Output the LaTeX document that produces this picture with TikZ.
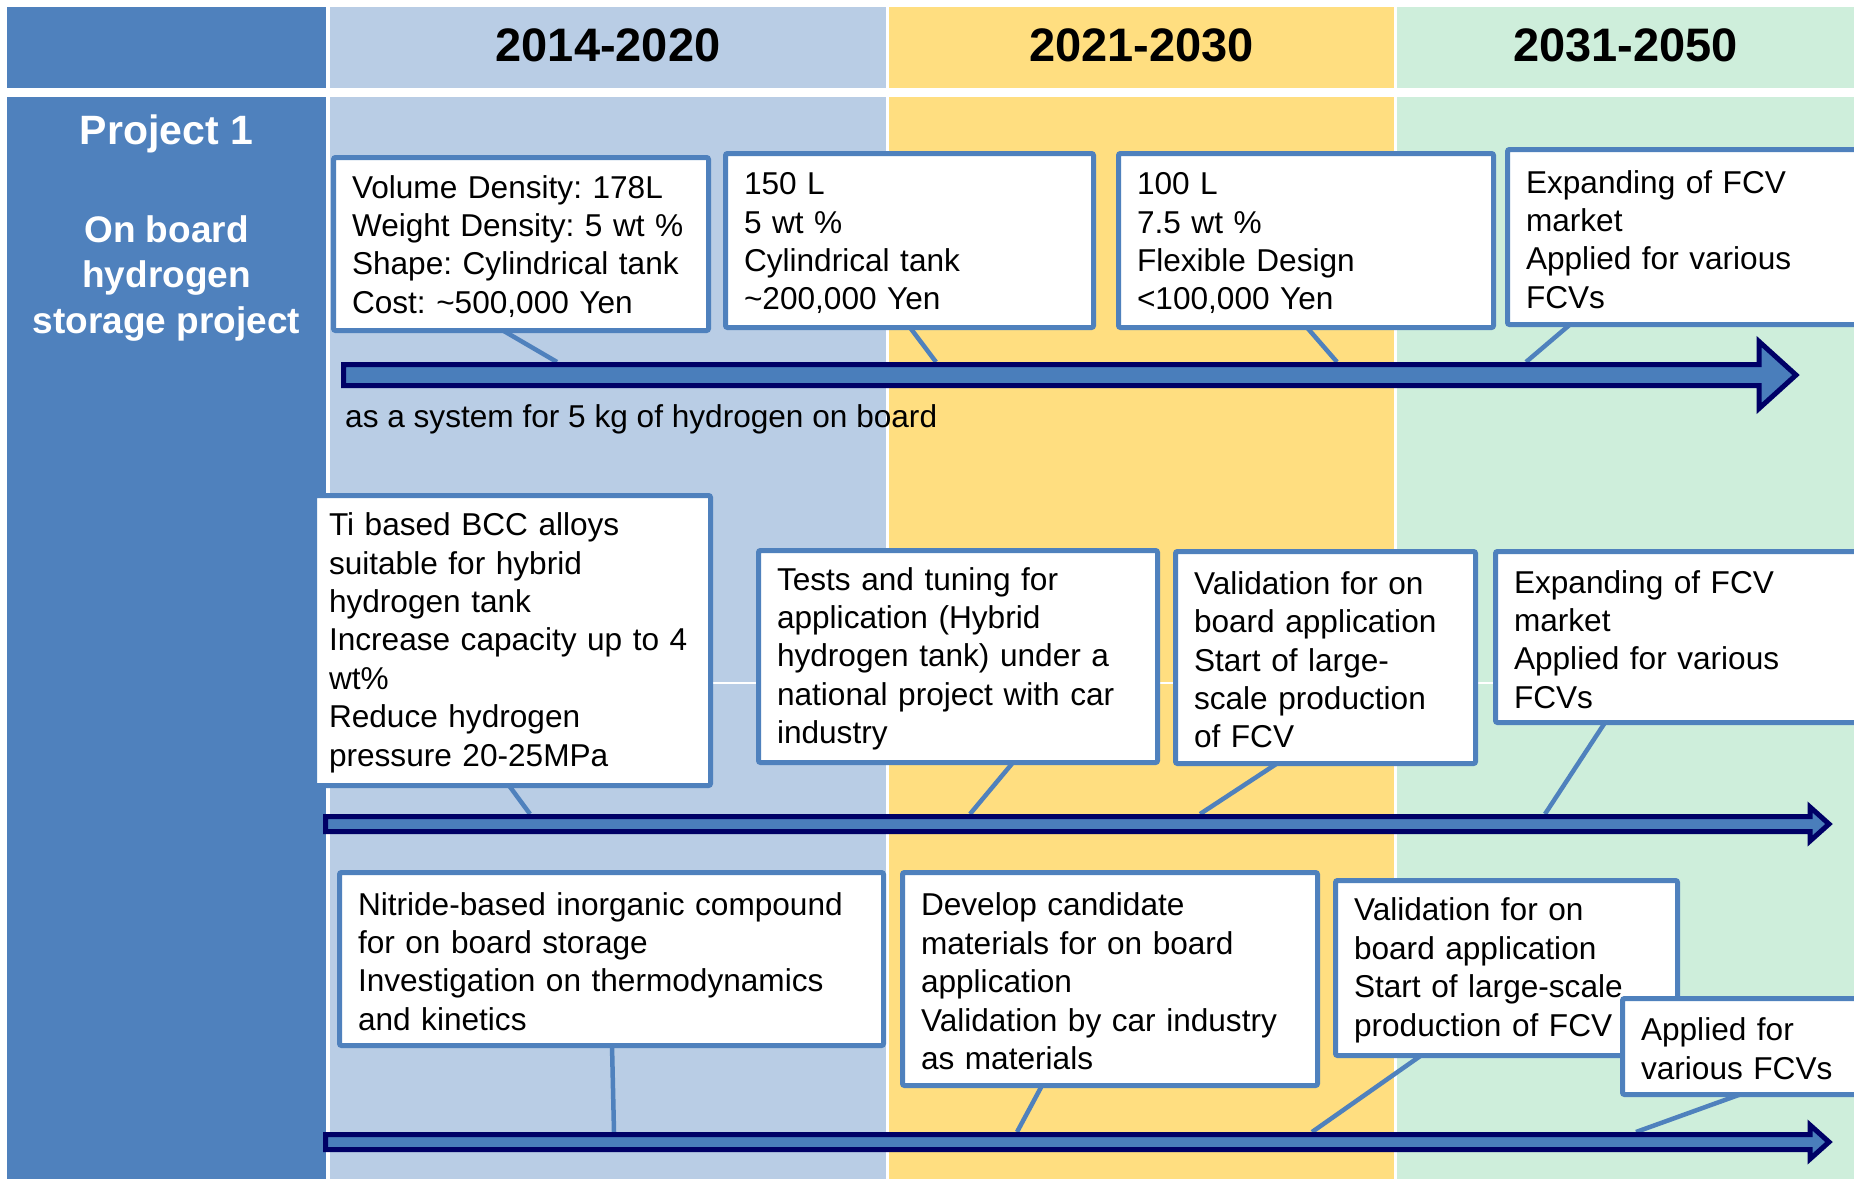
\documentclass[tikz,border=0pt]{standalone}
\usepackage{fontspec}
\setmainfont{Liberation Sans}
\usetikzlibrary{calc}
\pgfdeclarelayer{tabelle}
\pgfdeclarelayer{background}
\pgfsetlayers{tabelle,background,main}

\definecolor{kopfblau}{HTML}{4F81BD}
\definecolor{spalteblau}{HTML}{B9CDE5}
\definecolor{spaltegelb}{HTML}{FFDE80}
\definecolor{spaltegruen}{HTML}{CEEEDB}
\definecolor{kastenrand}{HTML}{4F81BD}
\definecolor{pfeilblau}{HTML}{4A7EBB}
\definecolor{pfeilrand}{HTML}{000066}

\begin{document}
\frenchspacing
\begin{tikzpicture} [ x=1pt, y=-1pt
								, kasten/.style={draw=kastenrand, fill=white, line width=5pt, rounded corners=2pt, anchor=north west, inner xsep=18.5pt, inner ysep=0pt, outer sep=0pt, align=left, font=\fontsize{31.6}{38.4}\selectfont, execute at begin node={\rule{0pt}{27.5pt}}}
								, stiel/.style={draw=kastenrand, line width=4.5pt}
								, pfeil/.style={fill=pfeilblau, draw=pfeilrand, line width=5pt, line join=miter}
								, zeitraum/.style={font=\fontsize{47}{56}\selectfont\bfseries}
								, titel/.style={text=white, align=center, font=\fontsize{37}{45.5}\selectfont\bfseries}
								]
	\useasboundingbox (0,0) rectangle (1854,1179);

	% table
	\begin{pgfonlayer}{tabelle}
	\fill [kopfblau] (7,7) rectangle (326,88);
	\fill [kopfblau] (7,97) rectangle (326,1179);
	\foreach \xa/\xb/\farbe in {330/886/spalteblau, 889/1394/spaltegelb, 1397/1854/spaltegruen}
	{
		\fill [\farbe] (\xa,7) rectangle (\xb,88);
		\fill [\farbe] (\xa,97) rectangle (\xb,682);
		\fill [\farbe] (\xa,684) rectangle (\xb,1179);
	}
	\end{pgfonlayer}

	\node (zeit1) [zeitraum] at (608,45) {2014-2020};
	\node (zeit2) [zeitraum] at (1141.5,45) {2021-2030};
	\node (zeit3) [zeitraum] at (1625.5,45) {2031-2050};

	\node (projekt) [titel, font=\fontsize{41}{48}\selectfont\bfseries] at (166.5,134) {Project 1};
	\node (thema) [titel] at (166.5,278.5) {On board\\hydrogen\\storage project};

	% time axes
	\coordinate (achse1) at (0,362);
	\coordinate (achse2) at (0,814);
	\coordinate (achse3) at (0,1132);

	\node (systemtext) [anchor=west, inner sep=0pt, font=\fontsize{31.6}{38.4}\selectfont] at (345,419.5) {as a system for 5 kg of hydrogen on board};

	% boxes
	\node (B1) [kasten, minimum width=375pt, minimum height=173pt, text width=338pt] at (333.5,157.5) {Volume Density: 178L\\Weight Density: 5 wt \%\\Shape: Cylindrical tank\\Cost: \textasciitilde500,000 Yen};
	\node (B2) [kasten, minimum width=368pt, minimum height=174pt, text width=331pt] at (725.5,153.5) {150 L\\5 wt \%\\Cylindrical tank\\\textasciitilde200,000 Yen};
	\node (B3) [kasten, minimum width=375pt, minimum height=174pt, text width=338pt] at (1118.5,153.5) {100 L\\7.5 wt \%\\Flexible Design\\<100,000 Yen};
	\node (B4) [kasten, minimum width=360pt, minimum height=175pt, text width=323pt] at (1507.5,149.5) {Expanding of FCV\\market\\Applied for various\\FCVs};

	\node (C1) [kasten, minimum width=396pt, minimum height=290pt, text width=367pt, inner xsep=14.5pt] at (314.5,495.5) {Ti based BCC alloys\\suitable for hybrid\\hydrogen tank\\Increase capacity up to 4\\wt\%\\Reduce hydrogen\\pressure 20-25MPa};
	\node (C2) [kasten, minimum width=399pt, minimum height=212pt, text width=362pt] at (758.5,550.5) {Tests and tuning for\\application (Hybrid\\hydrogen tank) under a\\national project with car\\industry};
	\node (C3) [kasten, minimum width=300pt, minimum height=212pt, text width=263pt] at (1175.5,551.5) {Validation for on\\board application\\Start of large-\\scale production\\of FCV};
	\node (C4) [kasten, minimum width=370pt, minimum height=171pt, text width=333pt] at (1495.5,551.5) {Expanding of FCV\\market\\Applied for various\\FCVs};

	\node (D1) [kasten, minimum width=544pt, minimum height=173pt, text width=507pt] at (339.5,872.5) {Nitride-based inorganic compound\\for on board storage\\Investigation on thermodynamics\\and kinetics};
	\node (D2) [kasten, minimum width=415pt, minimum height=213pt, text width=378pt] at (902.5,872.5) {Develop candidate\\materials for on board\\application\\Validation by car industry\\as materials};
	\node (D3) [kasten, minimum width=342pt, minimum height=175pt, text width=305pt] at (1335.5,880.5) {Validation for on\\board application\\Start of large-scale\\production of FCV};
	\node (D4) [kasten, minimum width=245pt, minimum height=96pt, text width=208pt] at (1622.5,998.5) {Applied for\\various FCVs};

	% connectors
	\begin{pgfonlayer}{background}
	\draw [stiel] ([xshift=169.5pt]B1.south west) -- ($(B1.south west |- achse1)+(223.5,0)$);
	\draw [stiel] ([xshift=184.5pt]B2.south west) -- ($(B2.south west |- achse1)+(210.5,0)$);
	\draw [stiel] ([xshift=188.5pt]B3.south west) -- ($(B3.south west |- achse1)+(218.5,0)$);
	\draw [stiel] ([xshift=62.5pt]B4.south west) -- ($(B4.south west |- achse1)+(18.5,0)$);
	\draw [stiel] ([xshift=194.5pt]C1.south west) -- ($(C1.south west |- achse2)+(215.5,0)$);
	\draw [stiel] ([xshift=254.5pt]C2.south west) -- ($(C2.south west |- achse2)+(211.5,0)$);
	\draw [stiel] ([xshift=101.5pt]C3.south west) -- ($(C3.south west |- achse2)+(24.5,0)$);
	\draw [stiel] ([xshift=109.5pt]C4.south west) -- ($(C4.south west |- achse2)+(49.5,0)$);
	\draw [stiel] ([xshift=272.5pt]D1.south west) -- ($(D1.south west |- achse3)+(274.5,0)$);
	\draw [stiel] ([xshift=139.5pt]D2.south west) -- ($(D2.south west |- achse3)+(114.5,0)$);
	\draw [stiel] ([xshift=85.5pt]D3.south west) -- ($(D3.south west |- achse3)+(-23.5,0)$);
	\draw [stiel] ([xshift=117.5pt]D4.south west) -- ($(D4.south west |- achse3)+(13.5,0)$);
	\end{pgfonlayer}

	% arrows
	\draw [pfeil] (343.5,364.5) -- (1759,364.5) -- (1759,341.5) -- (1796,375) -- (1759,408.5) -- (1759,385.5) -- (343.5,385.5) -- cycle;
	\draw [pfeil] (325.5,816.5) -- (1810,816.5) -- (1810,807) -- (1829,824) -- (1810,841) -- (1810,831.5) -- (325.5,831.5) -- cycle;
	\draw [pfeil] (325.5,1134.5) -- (1810,1134.5) -- (1810,1125) -- (1829,1142) -- (1810,1159) -- (1810,1149.5) -- (325.5,1149.5) -- cycle;

\end{tikzpicture}
\end{document}
